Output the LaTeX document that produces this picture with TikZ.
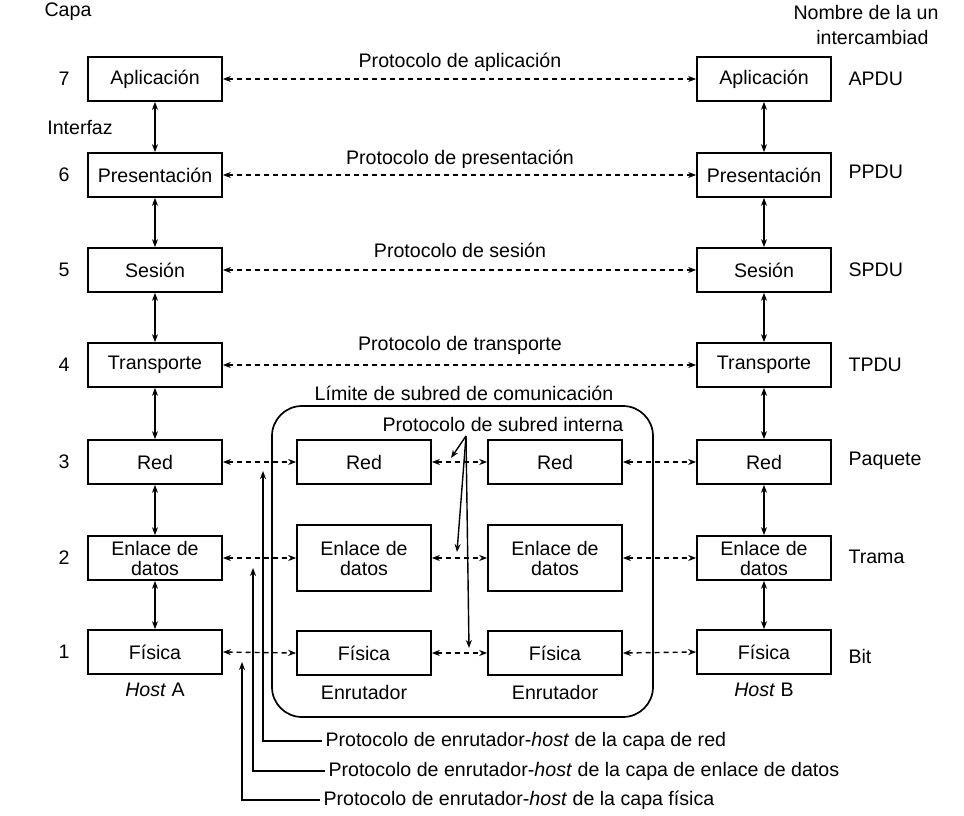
\documentclass[tikz,border=0pt]{standalone}
\usepackage{fontspec}
\setmainfont{Liberation Sans}
\usetikzlibrary{arrows.meta}
\begin{document}
\begin{tikzpicture}[x=1pt,y=-1pt,
  every node/.style={font=\fontsize{19.6}{20}\selectfont},
  layerbox/.style={draw,line width=1.7pt,minimum width=134pt,minimum height=44pt,inner sep=0pt,align=center},
  tallbox/.style={layerbox,minimum height=66pt},
  tip/.style={-{Stealth[length=8pt,width=6pt]}},
  dtip/.style={{Stealth[length=8pt,width=6pt]}-{Stealth[length=8pt,width=6pt]}},
  peer/.style={dtip,line width=1.4pt,dash pattern=on 5pt off 4pt},
  iface/.style={dtip,line width=1.4pt},
  plain/.style={line width=1.4pt}]
\useasboundingbox (0,0) rectangle (964,816);
% Host A
\node[layerbox] (A7) at (155,79) {Aplicación};
\node[layerbox] (A6) at (155,175) {Presentación};
\node[layerbox] (A5) at (155,270) {Sesión};
\node[layerbox] (A4) at (155,365) {Transporte};
\node[layerbox] (A3) at (155,462) {Red};
\node[layerbox] (A2) at (155,558) {Enlace de\\datos};
\node[layerbox] (A1) at (155,652) {Física};
% Host B
\node[layerbox] (B7) at (764,79) {Aplicación};
\node[layerbox] (B6) at (764,175) {Presentación};
\node[layerbox] (B5) at (764,270) {Sesión};
\node[layerbox] (B4) at (764,365) {Transporte};
\node[layerbox] (B3) at (764,462) {Red};
\node[layerbox] (B2) at (764,558) {Enlace de\\datos};
\node[layerbox] (B1) at (764,652) {Física};
% Routers
\node[layerbox] (L3) at (364,462) {Red};
\node[tallbox] (L2) at (364,558) {Enlace de\\datos};
\node[layerbox] (L1) at (364,653) {Física};
\node[layerbox] (R3) at (555,462) {Red};
\node[tallbox] (R2) at (555,558) {Enlace de\\datos};
\node[layerbox] (R1) at (555,653) {Física};
% Subnet boundary
\draw[line width=1.7pt,rounded corners=30pt] (272,406) rectangle (653,717);
% Layer numbers
\node (n7) at (64,79) {7};
\node (n6) at (64,175) {6};
\node (n5) at (64,270) {5};
\node (n4) at (64,365) {4};
\node (n3) at (64,462) {3};
\node (n2) at (64,558) {2};
\node (n1) at (64,652) {1};
\node (capa) at (68,12) {Capa};
\node (interfaz) at (80,128) {Interfaz};
\node[anchor=east] (nom1) at (942,12) {Nombre de la un};
\node[anchor=east] (nom2) at (932,37) {intercambiad};
% Unit names
\node[anchor=west] (u7) at (845,79) {APDU};
\node[anchor=west] (u6) at (845,172) {PPDU};
\node[anchor=west] (u5) at (845,270) {SPDU};
\node[anchor=west] (u4) at (845,365) {TPDU};
\node[anchor=west] (u3) at (845,461) {Paquete};
\node[anchor=west] (u2) at (845,557) {Trama};
\node[anchor=west] (u1) at (845,656) {Bit};
% Host / router labels
\node (hA) at (155,690) {\textit{Host} A};
\node (hB) at (764,690) {\textit{Host} B};
\node (eL) at (364,692) {Enrutador};
\node (eR) at (555,692) {Enrutador};
% Protocol labels
\node (p7) at (460,62) {Protocolo de aplicación};
\node (p6) at (460,159) {Protocolo de presentación};
\node (p5) at (460,250) {Protocolo de sesión};
\node (p4) at (460,345) {Protocolo de transporte};
\node (lim) at (464,393) {Límite de subred de comunicación};
\node (sub) at (503,424) {Protocolo de subred interna};
% Interfaces (vertical)
\foreach \h in {A,B}{
  \draw[iface] (\h7.south) -- (\h6.north);
  \draw[iface] (\h6.south) -- (\h5.north);
  \draw[iface] (\h5.south) -- (\h4.north);
  \draw[iface] (\h4.south) -- (\h3.north);
  \draw[iface] (\h3.south) -- (\h2.north);
  \draw[iface] (\h2.south) -- (\h1.north);
}
% Peer protocols
\draw[peer] (A7.east) -- (B7.west);
\draw[peer] (A6.east) -- (B6.west);
\draw[peer] (A5.east) -- (B5.west);
\draw[peer] (A4.east) -- (B4.west);
\foreach \k in {3,2,1}{
  \draw[peer] (A\k.east) -- (L\k.west);
  \draw[peer] (L\k.east) -- (R\k.west);
  \draw[peer] (R\k.east) -- (B\k.west);
}
% Internal subnet protocol pointers
\coordinate (s0) at (466,436);
\coordinate (s3) at (451,458);
\coordinate (s2) at (457,552);
\coordinate (s1) at (469,648);
\draw[tip,plain] (s0) -- (s3);
\draw[tip,plain] (s0) -- (s2);
\draw[tip,plain] (s0) -- (s1);
% Router-host protocol callouts
\node[anchor=west] (c3) at (322,741) {Protocolo de enrutador-\textit{host} de la capa de red};
\node[anchor=west] (c2) at (325,771) {Protocolo de enrutador-\textit{host} de la capa de enlace de datos};
\node[anchor=west] (c1) at (320,800) {Protocolo de enrutador-\textit{host} de la capa física};
\coordinate (k3) at (263,741);
\coordinate (k2) at (253,771);
\coordinate (k1) at (242,800);
\coordinate (t3) at (263,471);
\coordinate (t2) at (253,568);
\coordinate (t1) at (242,662);
\draw[tip,plain] (c3.west) -- (k3) -- (t3);
\draw[tip,plain] (c2.west) -- (k2) -- (t2);
\draw[tip,plain] (c1.west) -- (k1) -- (t1);
\end{tikzpicture}
\end{document}
